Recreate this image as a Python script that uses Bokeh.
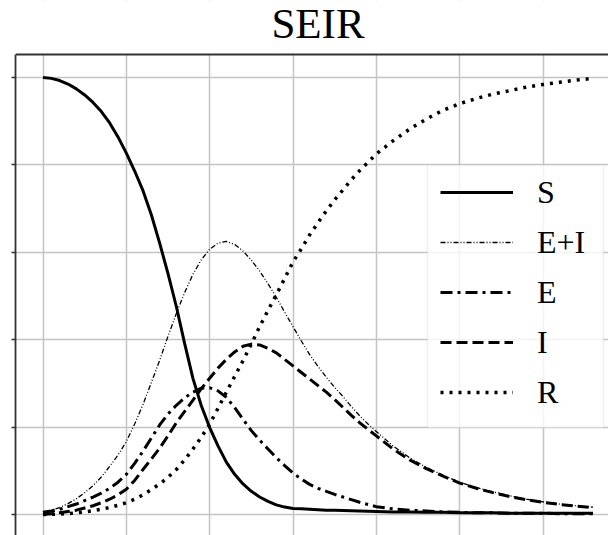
from bokeh.plotting import figure
from bokeh.models import (Legend, LegendItem, LinearAxis, FixedTicker, Range1d, Grid,
                          Span, Label, BoxAnnotation)
from bokeh.embed import file_html
from bokeh.resources import INLINE

t = list(range(0, 201, 5)) + list(range(210, 331, 10))
S = [1.0, 0.998, 0.993, 0.985, 0.974, 0.96, 0.943, 0.922, 0.896, 0.864, 0.827, 0.786,
     0.741, 0.686, 0.621, 0.551, 0.476, 0.391, 0.311, 0.249, 0.199, 0.157, 0.12, 0.092, 0.07,
     0.053, 0.04, 0.03, 0.022, 0.017, 0.014, 0.013, 0.012, 0.011, 0.01, 0.0095, 0.009,
     0.0085, 0.008, 0.0075, 0.007,
     0.006, 0.006, 0.005, 0.005, 0.004, 0.004, 0.004, 0.003, 0.003, 0.003, 0.003, 0.003, 0.003]
EI = [0.005, 0.01, 0.016, 0.025, 0.036, 0.05, 0.066, 0.086, 0.11, 0.136, 0.167, 0.207,
      0.252, 0.302, 0.353, 0.408, 0.46, 0.508, 0.55, 0.583, 0.607, 0.621, 0.625, 0.618,
      0.603, 0.582, 0.557, 0.528, 0.497, 0.463, 0.43, 0.397, 0.366, 0.339, 0.314, 0.291,
      0.27, 0.247, 0.226, 0.207, 0.19,
      0.157, 0.13, 0.108, 0.09, 0.074, 0.062, 0.052, 0.043, 0.035, 0.029, 0.024, 0.02, 0.017]
E = [0.005, 0.008, 0.012, 0.018, 0.024, 0.032, 0.04, 0.049, 0.06, 0.074, 0.092, 0.117,
     0.145, 0.175, 0.205, 0.23, 0.25, 0.267, 0.28, 0.289, 0.29, 0.283, 0.268, 0.245, 0.218,
     0.192, 0.17, 0.15, 0.13, 0.112, 0.095, 0.081, 0.069, 0.06, 0.053, 0.046, 0.04, 0.034,
     0.028, 0.023, 0.018,
     0.013, 0.01, 0.008, 0.006, 0.005, 0.004, 0.004, 0.003, 0.003, 0.003, 0.002, 0.002, 0.002]
I = [0.0, 0.002, 0.004, 0.007, 0.01, 0.015, 0.02, 0.027, 0.035, 0.045, 0.058, 0.078, 0.103,
     0.127, 0.152, 0.18, 0.21, 0.236, 0.262, 0.288, 0.312, 0.335, 0.355, 0.372, 0.385, 0.39,
     0.388, 0.38, 0.37, 0.355, 0.34, 0.325, 0.31, 0.295, 0.28, 0.263, 0.245, 0.227, 0.21,
     0.195, 0.18,
     0.15, 0.125, 0.105, 0.088, 0.072, 0.06, 0.05, 0.041, 0.034, 0.028, 0.023, 0.019, 0.016]
R = [0.0, 0.0005, 0.001, 0.002, 0.004, 0.006, 0.009, 0.012, 0.016, 0.021, 0.027, 0.035,
     0.045, 0.057, 0.07, 0.085, 0.103, 0.125, 0.15, 0.177, 0.207, 0.243, 0.28, 0.316, 0.352,
     0.39, 0.43, 0.467, 0.503, 0.54, 0.578, 0.608, 0.64, 0.668, 0.695, 0.72, 0.743, 0.766,
     0.787, 0.806, 0.825,
     0.855, 0.882, 0.905, 0.925, 0.94, 0.952, 0.962, 0.97, 0.978, 0.984, 0.989, 0.994, 0.998]
x_ticks = [0, 50, 100, 150, 200, 250, 300, 350]
y_ticks = [0.0, 0.2, 0.4, 0.6, 0.8, 1.0]
labels = ["S", "E+I", "E", "I", "R"]
title_text = "SEIR"

# axes box (matplotlib-like margins), the visible canvas crops its right/bottom part
x_lo, y_lo, y_hi = -16.5, -0.048, 1.0526
# legend frame placement (style/layout only)
legend_frame = dict(left=230.7, right=336.3, bottom=0.199, top=0.799)

p = figure(width=608, height=535, output_backend="svg", toolbar_location=None,
           x_range=Range1d(x_lo, 339.3), y_range=Range1d(y_lo, 1.1762),
           x_axis_location=None, y_axis_location=None,
           min_border_left=15, min_border_right=0, min_border_bottom=0, min_border_top=0)
p.outline_line_color = None

p.add_layout(Grid(dimension=0, ticker=FixedTicker(ticks=x_ticks),
                  grid_line_color="#c4c4c4", grid_line_width=1.5))
p.add_layout(Grid(dimension=1, ticker=FixedTicker(ticks=y_ticks),
                  grid_line_color="#c4c4c4", grid_line_width=1.5))

left = LinearAxis(ticker=FixedTicker(ticks=y_ticks), bounds=(y_lo, y_hi),
                  major_label_text_font_size="0px",
                  major_label_standoff=0, major_tick_out=4, major_tick_in=0,
                  minor_tick_line_color=None, axis_line_width=1.8, axis_line_color="#333333",
                  major_tick_line_color="#333333", major_tick_line_width=1.5)
p.add_layout(left, "left")

rS = p.line(t, S, line_color="black", line_width=3)
rEI = p.line(t, EI, line_color="black", line_width=1.3, line_dash="5 2 1 2 1 2")
rE = p.line(t, E, line_color="black", line_width=3, line_dash="12 5 3 5")
rI = p.line(t, I, line_color="black", line_width=3, line_dash="11 5")
rR = p.line(t, R, line_color="black", line_width=3.5, line_dash="3 6")

# white band above the axes box, top spine, title
p.add_layout(BoxAnnotation(bottom=y_hi, fill_color="white", fill_alpha=1.0, line_color=None))
p.add_layout(Span(location=y_hi, dimension="width", line_color="#333333", line_width=1.8))
p.add_layout(Label(x=165, y=1.123, text=title_text, text_align="center",
                   text_baseline="alphabetic", text_font="Liberation Serif",
                   text_font_size="43px", text_color="black"))

# semi-transparent legend frame
p.add_layout(BoxAnnotation(fill_color="white", fill_alpha=0.8, line_color="#cccccc",
                           line_width=1.5, **legend_frame))

items = [LegendItem(label=lab, renderers=[r]) for lab, r in zip(labels, [rS, rEI, rE, rI, rR])]
legend = Legend(items=items, location=(425, 124), glyph_width=73, glyph_height=20,
                label_text_font="Liberation Serif", label_text_font_size="32px",
                label_text_color="black",
                label_standoff=24, padding=8, spacing=12, label_height=38,
                background_fill_alpha=0.0, border_line_color=None, margin=0)
p.add_layout(legend)

open("out.html", "w").write(file_html(p, INLINE))
